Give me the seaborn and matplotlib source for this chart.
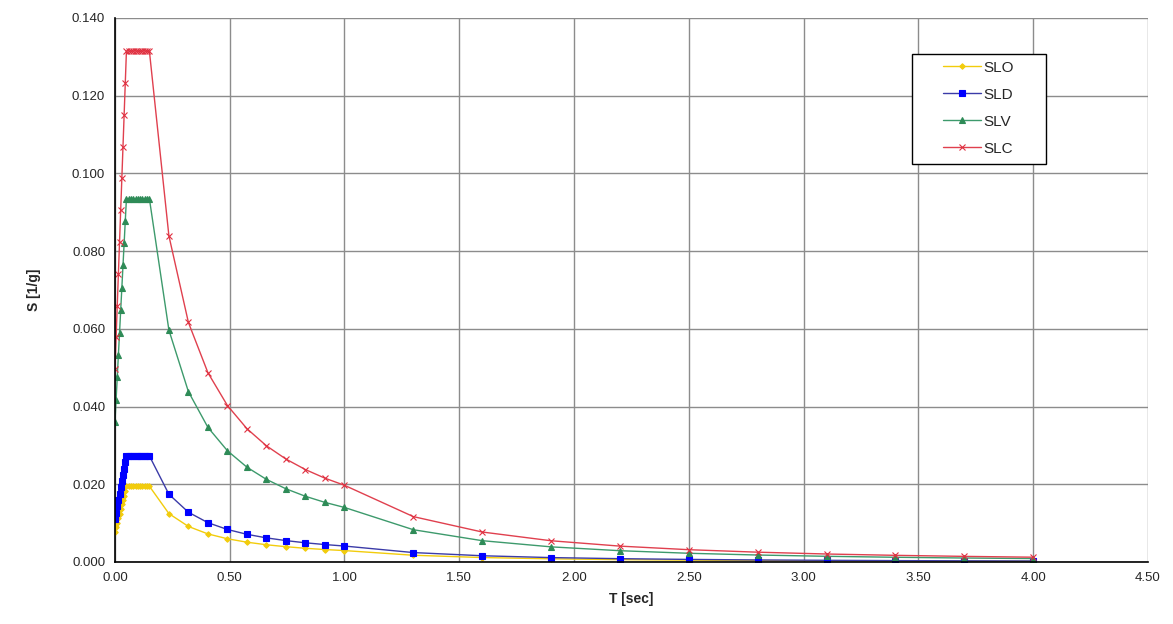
import matplotlib
matplotlib.use("Agg")
import matplotlib.pyplot as plt
from matplotlib.patches import Rectangle
import seaborn as sns
import pandas as pd

# Period T [sec]
periods = [0.000, 0.005, 0.010, 0.015, 0.020, 0.025, 0.030, 0.035, 0.040, 0.045, 0.050,
           0.060, 0.070, 0.080, 0.090, 0.100, 0.110, 0.120, 0.130, 0.140, 0.150,
           0.235, 0.320, 0.405, 0.490, 0.575, 0.660, 0.745, 0.830, 0.915, 1.000,
           1.30, 1.60, 1.90, 2.20, 2.50, 2.80, 3.10, 3.40, 3.70, 4.00]

# Spectral acceleration S [1/g] for each limit state
slo = [0.0077, 0.0089, 0.0101, 0.0112, 0.0124, 0.0136, 0.0148, 0.0160, 0.0171, 0.0183, 0.0195,
       0.0195, 0.0195, 0.0195, 0.0195, 0.0195, 0.0195, 0.0195, 0.0195, 0.0195, 0.0195,
       0.01245, 0.00914, 0.00722, 0.00597, 0.00509, 0.00443, 0.00393, 0.00352, 0.00320, 0.00293,
       0.00173, 0.00114, 0.00081, 0.00060, 0.00047, 0.00037, 0.00030, 0.00025, 0.00021, 0.00018]
sld = [0.0110, 0.0126, 0.0143, 0.0159, 0.0175, 0.0192, 0.0208, 0.0224, 0.0240, 0.0257, 0.0273,
       0.0273, 0.0273, 0.0273, 0.0273, 0.0273, 0.0273, 0.0273, 0.0273, 0.0273, 0.0273,
       0.01743, 0.01280, 0.01011, 0.00836, 0.00712, 0.00620, 0.00550, 0.00493, 0.00448, 0.00410,
       0.00242, 0.00160, 0.00113, 0.00085, 0.00066, 0.00052, 0.00043, 0.00035, 0.00030, 0.00026]
slv = [0.0360, 0.0418, 0.0475, 0.0533, 0.0590, 0.0648, 0.0705, 0.0763, 0.0820, 0.0878, 0.0935,
       0.0935, 0.0935, 0.0935, 0.0935, 0.0935, 0.0935, 0.0935, 0.0935, 0.0935, 0.0935,
       0.05968, 0.04383, 0.03463, 0.02862, 0.02439, 0.02125, 0.01883, 0.01690, 0.01533, 0.01403,
       0.00830, 0.00548, 0.00389, 0.00290, 0.00224, 0.00179, 0.00146, 0.00121, 0.00102, 0.00088]
slc = [0.0496, 0.0578, 0.0660, 0.0742, 0.0824, 0.0906, 0.0987, 0.1069, 0.1151, 0.1233, 0.1315,
       0.1315, 0.1315, 0.1315, 0.1315, 0.1315, 0.1315, 0.1315, 0.1315, 0.1315, 0.1315,
       0.08394, 0.06164, 0.04870, 0.04026, 0.03430, 0.02989, 0.02648, 0.02377, 0.02156, 0.01973,
       0.01167, 0.00771, 0.00546, 0.00408, 0.00316, 0.00252, 0.00205, 0.00171, 0.00144, 0.00123]

series_names = ["SLO", "SLD", "SLV", "SLC"]
x_ticks = [0.0, 0.5, 1.0, 1.5, 2.0, 2.5, 3.0, 3.5, 4.0, 4.5]
y_ticks = [0.000, 0.020, 0.040, 0.060, 0.080, 0.100, 0.120, 0.140]

sns.set_style("white")
plt.rcParams["font.family"] = ["Liberation Sans", "DejaVu Sans"]

fig = plt.figure(figsize=(11.73, 6.24), dpi=100)
ax = fig.add_axes([0.098, 0.0994, 0.8806, 0.8718])

styles = {
    "SLO": dict(color="#F2CC0C", marker="D", markersize=2.8, mfc="#F2CC0C", mec="#F2CC0C"),
    "SLD": dict(color="#3B3BA8", marker="s", markersize=4.2, mfc="#0000FF", mec="#0000FF"),
    "SLV": dict(color="#3D9A6C", marker="^", markersize=4.5, mfc="#2E8B57", mec="#2E8B57"),
    "SLC": dict(color="#E0404E", marker="x", markersize=5, mfc="#E03040", mec="#E03040"),
}
values = {"SLO": slo, "SLD": sld, "SLV": slv, "SLC": slc}

for name in series_names:
    st = styles[name]
    df = pd.DataFrame({"T": periods, "S": values[name]})
    sns.lineplot(data=df, x="T", y="S", ax=ax, label=name, color=st["color"],
                 linewidth=1.0, marker=st["marker"], markersize=st["markersize"],
                 markerfacecolor=st["mfc"], markeredgecolor=st["mec"],
                 markeredgewidth=0.8, sort=False, estimator=None)

ax.set_xlim(0, 4.5)
ax.set_ylim(0, 0.140)
ax.set_xticks(x_ticks)
ax.set_yticks(y_ticks)
ax.set_xticklabels([f"{v:.2f}" for v in x_ticks], fontsize=9.5)
ax.set_yticklabels([f"{v:.3f}" for v in y_ticks], fontsize=9.5)
ax.grid(True, color="#8C8C8C", linewidth=1.0)
ax.set_axisbelow(True)

for side in ("top", "right"):
    ax.spines[side].set_visible(False)
for side in ("left", "bottom"):
    ax.spines[side].set_color("black")
    ax.spines[side].set_linewidth(1.2)
ax.tick_params(axis="both", direction="out", length=4, width=1, color="black", pad=3)

ax.set_xlabel("T [sec]", fontsize=10, fontweight="bold", labelpad=6)
ax.set_ylabel("S [1/g]", fontsize=10, fontweight="bold", labelpad=22)

# Legend box with generous right margin, entries drawn without their own frame
ax.add_patch(Rectangle((0.7715, 0.7316), 0.1298, 0.2022, transform=ax.transAxes,
                       facecolor="white", edgecolor="black", linewidth=1.0, zorder=4))
leg = ax.legend(loc="upper left", bbox_to_anchor=(0.8014, 0.9215), fontsize=11,
                frameon=False, handlelength=2.5, handletextpad=0.15, labelspacing=0.85,
                borderpad=0, borderaxespad=0)
leg.set_zorder(5)

fig.savefig("out.png", dpi=100, facecolor="white")
